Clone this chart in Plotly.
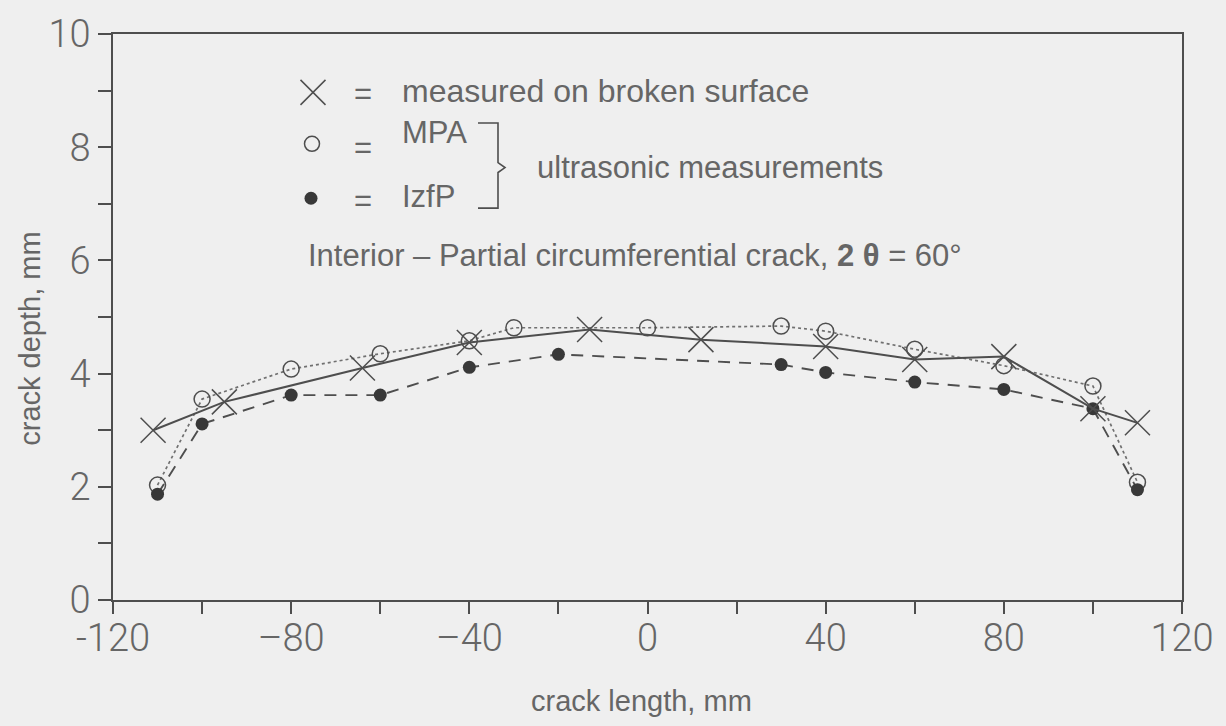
import plotly.graph_objects as go

# crack depth profiles along the crack length
x_broken = [-111, -95, -64, -40, -13, 12, 40, 60, 80, 100, 110]
d_broken = [3.0, 3.5, 4.1, 4.55, 4.78, 4.6, 4.48, 4.25, 4.3, 3.38, 3.13]

x_mpa = [-110, -100, -80, -60, -40, -30, 0, 30, 40, 60, 80, 100, 110]
d_mpa = [2.03, 3.55, 4.08, 4.35, 4.58, 4.81, 4.81, 4.84, 4.75, 4.43, 4.14, 3.78, 2.08]

x_izfp = [-110, -100, -80, -60, -40, -20, 30, 40, 60, 80, 100, 110]
d_izfp = [1.87, 3.11, 3.62, 3.62, 4.11, 4.34, 4.16, 4.02, 3.85, 3.72, 3.38, 1.95]

x_tickvals = [-120, -80, -40, 0, 40, 80, 120]
x_ticktext = ["-120", "\u201380", "\u201340", "0", "40", "80", "120"]
y_tickvals = [0, 2, 4, 6, 8, 10]

W, H = 1226, 726
L, R, T, B = 113, 1182, 28, 600  # plot area in pixels

BG = "#efefef"
INK = "#4e4e4e"
TXT = "#666666"
TICKFONT = "Roboto, Liberation Sans, Arial, sans-serif"
FONT = "Liberation Sans, Arial, sans-serif"

fig = go.Figure()

fig.add_trace(go.Scatter(
    x=x_mpa, y=d_mpa, mode="lines+markers", name="MPA",
    line=dict(color="#707070", width=1.7, dash="dot"),
    marker=dict(symbol="circle-open", size=16, color=INK, line=dict(width=1.5, color=INK)),
))
fig.add_trace(go.Scatter(
    x=x_izfp, y=d_izfp, mode="lines+markers", name="IzfP",
    line=dict(color=INK, width=1.9, dash="12px,9px"),
    marker=dict(symbol="circle", size=13, color="#383838"),
))
fig.add_trace(go.Scatter(
    x=x_broken, y=d_broken, mode="lines+markers", name="measured on broken surface",
    line=dict(color=INK, width=2),
    marker=dict(symbol="x-thin-open", size=25, color=INK, line=dict(width=1.5, color=INK)),
))

# key symbols, placed on a pixel-based overlay axis
fig.add_trace(go.Scatter(
    x=[313], y=[87], xaxis="x2", yaxis="y2", mode="markers", showlegend=False,
    marker=dict(symbol="x-thin-open", size=25, color=INK, line=dict(width=1.5, color=INK)),
))
fig.add_trace(go.Scatter(
    x=[312], y=[139], xaxis="x2", yaxis="y2", mode="markers", showlegend=False,
    marker=dict(symbol="circle-open", size=15, color=INK, line=dict(width=1.5, color=INK)),
))
fig.add_trace(go.Scatter(
    x=[311], y=[194], xaxis="x2", yaxis="y2", mode="markers", showlegend=False,
    marker=dict(symbol="circle", size=13, color="#383838"),
))

def note(x, y, text, size=31, anchor="left"):
    fig.add_annotation(x=x, y=y, xref="x2", yref="y2", text=text, showarrow=False,
                       xanchor=anchor, yanchor="middle",
                       font=dict(family=FONT, size=size, color=TXT))

note(363, 88, "=", anchor="center")
note(363, 143, "=", anchor="center")
note(363, 196, "=", anchor="center")
note(400, 86, "measured on broken surface", size=32)
note(400, 128, "MPA")
note(400, 192, "IzfP")
note(535, 163, "ultrasonic measurements")
note(306, 252, "Interior \u2013 Partial circumferential crack, <b>2 \u03b8</b> = 60\u00b0")

# axis titles, positioned in paper coordinates
def px_to_paper(px, py):
    return (px - L) / (R - L), (B - py) / (B - T)

tx, ty = px_to_paper(641, 702)
fig.add_annotation(x=tx, y=ty, xref="paper", yref="paper", text="crack length, mm",
                   showarrow=False, xanchor="center", yanchor="middle",
                   font=dict(family=FONT, size=29, color=TXT))
tx, ty = px_to_paper(30, 336)
fig.add_annotation(x=tx, y=ty, xref="paper", yref="paper", text="crack depth, mm",
                   showarrow=False, xanchor="center", yanchor="middle", textangle=-90,
                   font=dict(family=FONT, size=29, color=TXT))

# bracket joining the two ultrasonic entries
fig.add_shape(type="path", xref="x2", yref="y2",
              path="M 478 118 L 498 118 L 498 158 L 505 163 L 498 168 L 498 204 L 478 204",
              line=dict(color=INK, width=1.6))

fig.update_layout(
    width=W, height=H,
    margin=dict(l=L, r=W - R, t=T, b=H - B, pad=0),
    paper_bgcolor=BG, plot_bgcolor=BG,
    showlegend=False,
    xaxis=dict(
        range=[-120, 120], tickvals=x_tickvals, ticktext=x_ticktext,
        showgrid=False, zeroline=False, showline=True, mirror=True,
        linecolor=INK, linewidth=1.6, ticks="outside", ticklen=12, tickwidth=1.6, tickcolor=INK,
        minor=dict(dtick=20, ticks="outside", ticklen=12, tickwidth=1.6, tickcolor=INK),
        tickfont=dict(family=TICKFONT, size=38, color=TXT, weight=300),
        ticklabelstandoff=-8,
    ),
    yaxis=dict(
        range=[0, 10], tickvals=y_tickvals,
        showgrid=False, zeroline=False, showline=True, mirror=True,
        linecolor=INK, linewidth=1.6, ticks="outside", ticklen=13, tickwidth=1.6, tickcolor=INK,
        minor=dict(dtick=1, ticks="outside", ticklen=13, tickwidth=1.6, tickcolor=INK),
        tickfont=dict(family=TICKFONT, size=38, color=TXT, weight=300),
    ),
    xaxis2=dict(range=[L, R], overlaying="x", visible=False, fixedrange=True),
    yaxis2=dict(range=[B, T], overlaying="y", visible=False, fixedrange=True),
)

fig.write_html("out.html")
